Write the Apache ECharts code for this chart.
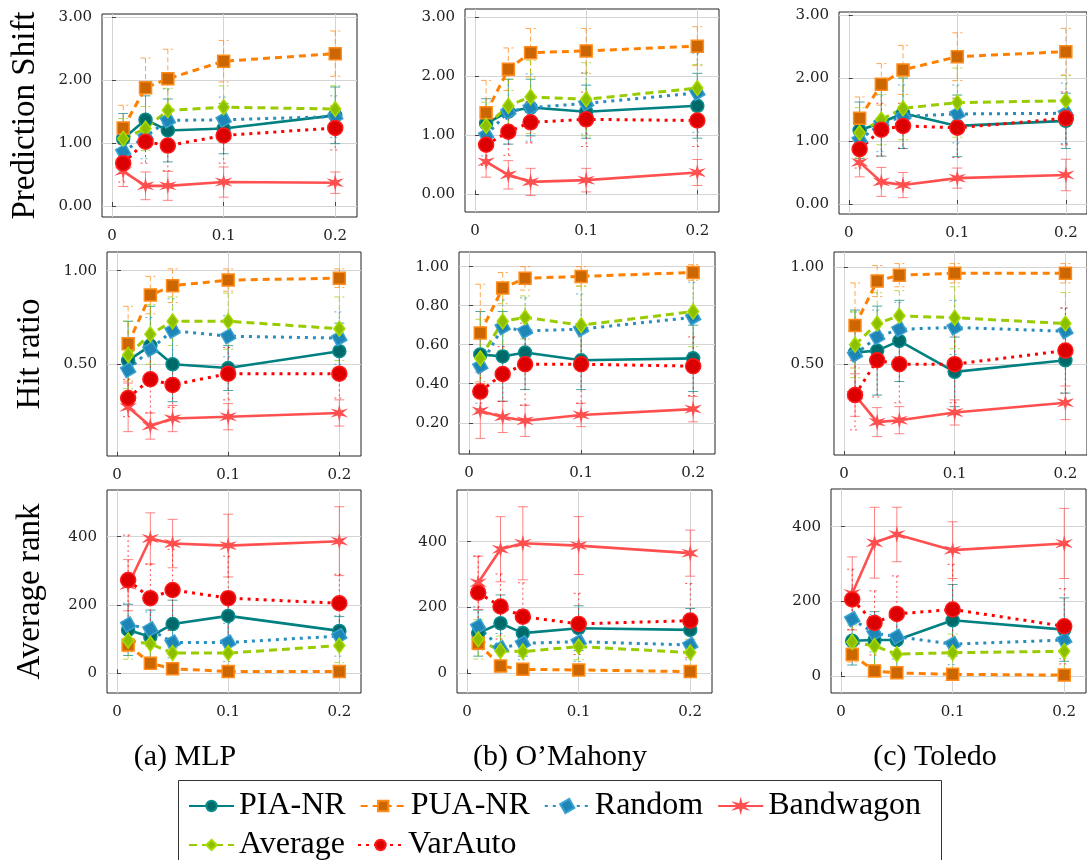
<!DOCTYPE html>
<html><head><meta charset="utf-8">
<script src="https://cdn.jsdelivr.net/npm/echarts@6/dist/echarts.min.js"></script>
<style>html,body{margin:0;padding:0;background:#fff}#c{width:1087px;height:860px}</style>
</head><body><div id="c"></div>
<script>
// ---------- data ----------
const xValues = [0.01, 0.03, 0.05, 0.1, 0.2];
const xTicks = [0, 0.1, 0.2];
const xTickLabels = ['0', '0.1', '0.2'];
const shiftTicks = [0, 1, 2, 3];
const hitTicksWide = [0.5, 1.0];
const hitTicksFine = [0.2, 0.4, 0.6, 0.8, 1.0];
const rankTicks = [0, 200, 400];
const seriesNames = ['PIA-NR', 'PUA-NR', 'Random', 'Bandwagon', 'Average', 'VarAuto'];
const captions = ['(a) MLP', '(b) O\u2019Mahony', '(c) Toledo'];
const metricNames = ['Prediction Shift', 'Hit ratio', 'Average rank'];

// rows follow seriesNames order
const shiftMLP = [
  [1.07, 1.37, 1.20, 1.23, 1.44],
  [1.24, 1.88, 2.02, 2.30, 2.42],
  [0.86, 1.10, 1.36, 1.37, 1.42],
  [0.55, 0.32, 0.32, 0.38, 0.37],
  [1.07, 1.23, 1.52, 1.57, 1.54],
  [0.68, 1.02, 0.96, 1.12, 1.24]];
const shiftMLPErr = [
  [0.40, 0.38, 0.50, 0.40, 0.45],
  [0.36, 0.47, 0.47, 0.33, 0.36],
  [0.30, 0.35, 0.50, 0.36, 0.33],
  [0.24, 0.22, 0.23, 0.24, 0.17],
  [0.32, 0.35, 0.35, 0.34, 0.37],
  [0.30, 0.34, 0.40, 0.44, 0.35]];
const shiftOMahony = [
  [1.20, 1.40, 1.47, 1.40, 1.50],
  [1.38, 2.12, 2.40, 2.43, 2.51],
  [1.00, 1.40, 1.47, 1.54, 1.72],
  [0.55, 0.33, 0.21, 0.24, 0.37],
  [1.16, 1.50, 1.65, 1.61, 1.80],
  [0.84, 1.06, 1.22, 1.27, 1.25]];
const shiftOMahonyErr = [
  [0.42, 0.55, 0.48, 0.45, 0.55],
  [0.55, 0.36, 0.41, 0.38, 0.33],
  [0.35, 0.55, 0.57, 0.52, 0.67],
  [0.26, 0.24, 0.23, 0.20, 0.22],
  [0.40, 0.45, 0.62, 0.62, 0.40],
  [0.35, 0.40, 0.35, 0.46, 0.44]];
const shiftToledo = [
  [1.17, 1.29, 1.44, 1.24, 1.32],
  [1.36, 1.90, 2.13, 2.34, 2.42],
  [1.02, 1.28, 1.39, 1.43, 1.44],
  [0.66, 0.35, 0.30, 0.41, 0.46],
  [1.13, 1.34, 1.52, 1.61, 1.64],
  [0.87, 1.18, 1.24, 1.21, 1.36]];
const shiftToledoErr = [
  [0.45, 0.53, 0.56, 0.49, 0.44],
  [0.34, 0.33, 0.39, 0.38, 0.37],
  [0.35, 0.45, 0.50, 0.46, 0.48],
  [0.23, 0.23, 0.20, 0.16, 0.25],
  [0.40, 0.40, 0.50, 0.55, 0.40],
  [0.30, 0.42, 0.36, 0.47, 0.42]];

const hitMLP = [
  [0.52, 0.60, 0.50, 0.48, 0.57],
  [0.61, 0.87, 0.92, 0.95, 0.96],
  [0.47, 0.58, 0.68, 0.65, 0.64],
  [0.27, 0.17, 0.21, 0.22, 0.24],
  [0.55, 0.66, 0.73, 0.73, 0.69],
  [0.32, 0.42, 0.39, 0.45, 0.45]];
const hitMLPErr = [
  [0.21, 0.21, 0.20, 0.12, 0.15],
  [0.20, 0.10, 0.09, 0.06, 0.05],
  [0.15, 0.17, 0.17, 0.11, 0.14],
  [0.13, 0.07, 0.07, 0.07, 0.07],
  [0.18, 0.16, 0.13, 0.15, 0.17],
  [0.10, 0.18, 0.12, 0.14, 0.13]];
const hitOMahony = [
  [0.55, 0.54, 0.56, 0.52, 0.53],
  [0.66, 0.89, 0.94, 0.95, 0.97],
  [0.49, 0.69, 0.67, 0.68, 0.74],
  [0.26, 0.23, 0.21, 0.24, 0.27],
  [0.53, 0.72, 0.74, 0.70, 0.77],
  [0.36, 0.45, 0.50, 0.50, 0.49]];
const hitOMahonyErr = [
  [0.22, 0.23, 0.19, 0.15, 0.17],
  [0.25, 0.08, 0.06, 0.05, 0.04],
  [0.19, 0.14, 0.17, 0.18, 0.18],
  [0.14, 0.08, 0.08, 0.06, 0.065],
  [0.20, 0.15, 0.11, 0.20, 0.18],
  [0.10, 0.14, 0.21, 0.20, 0.15]];
const hitToledo = [
  [0.56, 0.57, 0.62, 0.46, 0.52],
  [0.70, 0.93, 0.96, 0.97, 0.97],
  [0.55, 0.64, 0.68, 0.69, 0.67],
  [0.34, 0.20, 0.21, 0.25, 0.30],
  [0.60, 0.71, 0.75, 0.74, 0.71],
  [0.34, 0.52, 0.50, 0.50, 0.57]];
const hitToledoErr = [
  [0.22, 0.23, 0.21, 0.18, 0.17],
  [0.22, 0.08, 0.06, 0.05, 0.05],
  [0.22, 0.14, 0.14, 0.14, 0.12],
  [0.11, 0.075, 0.07, 0.065, 0.087],
  [0.17, 0.16, 0.13, 0.16, 0.16],
  [0.18, 0.19, 0.20, 0.20, 0.22]];

const rankMLP = [
  [127, 107, 144, 168, 124],
  [83, 29, 13, 5, 5],
  [143, 129, 90, 90, 109],
  [258, 395, 380, 374, 387],
  [96, 86, 59, 59, 81],
  [273, 220, 244, 220, 205]];
const rankMLPErr = [
  [75, 78, 70, 71, 42],
  [20, 18, 15, 8, 8],
  [62, 50, 45, 56, 59],
  [75, 75, 71, 92, 101],
  [55, 50, 45, 40, 50],
  [132, 100, 119, 123, 85]];
const rankOMahony = [
  [122, 152, 122, 137, 132],
  [91, 22, 12, 10, 5],
  [142, 76, 91, 96, 86],
  [275, 377, 395, 388, 365],
  [103, 68, 66, 81, 63],
  [245, 203, 172, 150, 160]];
const rankOMahonyErr = [
  [70, 86, 70, 68, 65],
  [20, 18, 12, 10, 8],
  [60, 45, 50, 60, 45],
  [81, 99, 111, 88, 70],
  [60, 45, 40, 40, 40],
  [111, 99, 103, 93, 113]];
const rankToledo = [
  [94, 96, 96, 149, 124],
  [57, 13, 8, 4, 2],
  [152, 114, 105, 85, 96],
  [221, 357, 379, 337, 355],
  [91, 80, 58, 62, 66],
  [205, 142, 166, 178, 133]];
const rankToledoErr = [
  [65, 76, 80, 96, 85],
  [20, 15, 10, 8, 6],
  [55, 50, 60, 55, 50],
  [98, 95, 73, 76, 94],
  [45, 50, 55, 50, 50],
  [81, 86, 102, 121, 101]];

// ---------- styles / layout ----------
function starPath() {
  const pts = [];
  for (let k = 0; k < 12; k++) {
    const a = -Math.PI / 2 + k * Math.PI / 6;
    const r = k % 2 === 0 ? 10 : 3.2;
    pts.push((10 + r * Math.cos(a)).toFixed(2) + ' ' + (10 + r * Math.sin(a)).toFixed(2));
  }
  return 'path://M' + pts.join(' L') + ' Z';
}
const styles = [
  {line: '#008080', fill: '#006a6a', border: '#0a8c8c', dash: 'solid', width: 2.6, symbol: 'circle', size: 13, rot: 0},
  {line: '#ff8000', fill: '#cc6600', border: '#ff8c1a', dash: [7, 5], width: 3, symbol: 'rect', size: 12, rot: 0},
  {line: '#2a8dbf', fill: '#1d86b6', border: '#3aa2d2', dash: [3, 5], width: 3, symbol: 'rect', size: 11, rot: 30},
  {line: '#ff4f4f', fill: '#ff4f4f', border: '#ff4f4f', dash: 'solid', width: 2.6, symbol: starPath(), size: 11, rot: 0},
  {line: '#99cc00', fill: '#8cbf00', border: '#a8dc00', dash: [8, 5], width: 3, symbol: 'diamond', size: [11, 15], rot: 0},
  {line: '#ff0000', fill: '#dd0000', border: '#ff1a1a', dash: [3, 5], width: 3, symbol: 'circle', size: 15, rot: 0}
];

const panels = [
  {mean: shiftMLP, err: shiftMLPErr, ticks: shiftTicks, dec: 2, yMin: -0.175, yMax: 3.05, left: 102, top: 14, width: 255, height: 203, name: metricNames[0]},
  {mean: shiftOMahony, err: shiftOMahonyErr, ticks: shiftTicks, dec: 2, yMin: -0.30, yMax: 3.14, left: 465, top: 9, width: 254, height: 203},
  {mean: shiftToledo, err: shiftToledoErr, ticks: shiftTicks, dec: 2, yMin: -0.16, yMax: 3.05, left: 839, top: 12, width: 255, height: 202},
  {mean: hitMLP, err: hitMLPErr, ticks: hitTicksWide, dec: 2, yMin: 0.01, yMax: 1.10, left: 107, top: 252, width: 254, height: 204, name: metricNames[1]},
  {mean: hitOMahony, err: hitOMahonyErr, ticks: hitTicksFine, dec: 2, yMin: 0.04, yMax: 1.075, left: 459, top: 252, width: 256, height: 202},
  {mean: hitToledo, err: hitToledoErr, ticks: hitTicksWide, dec: 2, yMin: 0.03, yMax: 1.08, left: 834, top: 252, width: 255, height: 203},
  {mean: rankMLP, err: rankMLPErr, ticks: rankTicks, dec: 0, yMin: -58, yMax: 537, left: 107, top: 490, width: 254, height: 203, name: metricNames[2]},
  {mean: rankOMahony, err: rankOMahonyErr, ticks: rankTicks, dec: 0, yMin: -60, yMax: 557, left: 457, top: 490, width: 255, height: 203},
  {mean: rankToledo, err: rankToledoErr, ticks: rankTicks, dec: 0, yMin: -46, yMax: 501, left: 831, top: 489, width: 255, height: 204}
];

const tickFont = 'DejaVu Serif';
const textFont = 'Liberation Serif';

const grids = [], xAxes = [], yAxes = [], series = [];
panels.forEach((p, i) => {
  grids.push({left: p.left, top: p.top, width: p.width, height: p.height, show: true,
    borderColor: '#222', borderWidth: 1, backgroundColor: 'transparent'});
  xAxes.push({gridIndex: i, type: 'value', min: -0.009, max: 0.2195,
    axisLine: {show: false},
    axisTick: {show: true, inside: true, length: 4, customValues: xTicks, lineStyle: {color: '#444'}},
    axisLabel: {customValues: xTicks, margin: 12, fontFamily: tickFont, fontSize: 15, color: '#222',
      formatter: v => xTickLabels[xTicks.findIndex(t => Math.abs(t - v) < 1e-9)] ?? ''},
    splitLine: {show: true, lineStyle: {color: '#d4d4d4', width: 1}}});
  yAxes.push({gridIndex: i, type: 'value', min: p.yMin, max: p.yMax,
    axisLine: {show: false},
    axisTick: {show: true, inside: true, length: 4, customValues: p.ticks, lineStyle: {color: '#444'}},
    axisLabel: {customValues: p.ticks, margin: 10, fontFamily: tickFont, fontSize: 15, color: '#222',
      formatter: v => Number(v).toFixed(p.dec)},
    splitLine: {show: true, lineStyle: {color: '#d4d4d4', width: 1}},
    name: p.name || '', nameLocation: 'middle', nameGap: 60,
    nameTextStyle: {fontFamily: textFont, fontSize: 33, color: '#000'}});
  // error bars
  seriesNames.forEach((nm, s) => {
    const st = styles[s];
    series.push({
      type: 'custom', name: nm + ' error', xAxisIndex: i, yAxisIndex: i, z: 1, silent: true,
      data: xValues.map((x, j) => [x, p.mean[s][j] - p.err[s][j], p.mean[s][j] + p.err[s][j]]),
      encode: {x: 0, y: [1, 2]},
      renderItem: (params, api) => {
        const x = api.value(0);
        const lo = api.coord([x, api.value(1)]);
        const hi = api.coord([x, api.value(2)]);
        const dash = st.dash === 'solid' ? null : (s === 2 || s === 5 ? [2, 3] : [5, 3]);
        const style = {stroke: st.line, lineWidth: 1, lineDash: dash, opacity: 0.7};
        const cap = 5;
        return {type: 'group', children: [
          {type: 'line', shape: {x1: hi[0], y1: hi[1], x2: lo[0], y2: lo[1]}, style},
          {type: 'line', shape: {x1: hi[0] - cap, y1: hi[1], x2: hi[0] + cap, y2: hi[1]}, style},
          {type: 'line', shape: {x1: lo[0] - cap, y1: lo[1], x2: lo[0] + cap, y2: lo[1]}, style}
        ]};
      }
    });
  });
  seriesNames.forEach((nm, s) => {
    const st = styles[s];
    series.push({
      type: 'line', name: nm, xAxisIndex: i, yAxisIndex: i, z: 3, silent: true,
      data: xValues.map((x, j) => [x, p.mean[s][j]]),
      symbol: st.symbol, symbolSize: st.size, symbolRotate: st.rot, showAllSymbol: true,
      lineStyle: {color: st.line, width: st.width, type: st.dash},
      itemStyle: {color: st.fill, borderColor: st.border, borderWidth: 1.5},
      emphasis: {disabled: true}
    });
  });
});

const legendCommon = {
  left: 188, itemWidth: 45, itemHeight: 13, padding: 0, selectedMode: false,
  textStyle: {fontFamily: textFont, fontSize: 32, color: '#000', lineHeight: 36}
};

const option = {
  animation: false,
  backgroundColor: '#fff',
  grid: grids, xAxis: xAxes, yAxis: yAxes, series: series,
  legend: [
    Object.assign({}, legendCommon, {top: 788, itemGap: 14, data: seriesNames.slice(0, 4)}),
    Object.assign({}, legendCommon, {top: 827, itemGap: 12, data: seriesNames.slice(4)})
  ],
  graphic: [
    {type: 'rect', shape: {x: 178.5, y: 780.5, width: 763, height: 110}, style: {fill: 'none', stroke: '#333', lineWidth: 1}, silent: true},
    {type: 'text', x: 185, y: 757, style: {text: captions[0], fontFamily: textFont, fontSize: 30, fill: '#000', align: 'center', verticalAlign: 'middle'}},
    {type: 'text', x: 560, y: 757, style: {text: captions[1], fontFamily: textFont, fontSize: 30, fill: '#000', align: 'center', verticalAlign: 'middle'}},
    {type: 'text', x: 935, y: 757, style: {text: captions[2], fontFamily: textFont, fontSize: 30, fill: '#000', align: 'center', verticalAlign: 'middle'}}
  ]
};

const chart = echarts.init(document.getElementById('c'), null, {renderer: 'canvas'});
chart.setOption(option);
</script>
</body></html>
